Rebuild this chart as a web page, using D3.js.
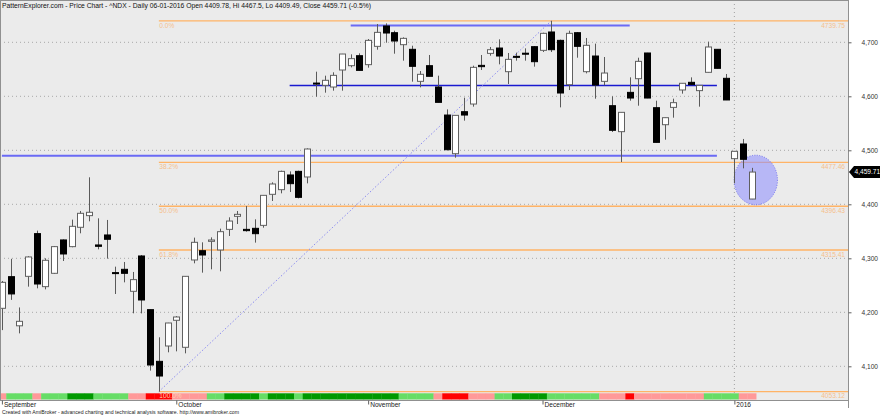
<!DOCTYPE html>
<html><head><meta charset="utf-8">
<script src="https://cdn.jsdelivr.net/npm/d3@7"></script>
<style>html,body{margin:0;padding:0;background:#fff;}svg{display:block;font-family:"Liberation Sans",Arial,sans-serif;}</style>
</head><body>
<svg id="c" width="880" height="415"></svg>
<script>
// ---- data ----
const dates = ["2015-09-02","2015-09-03","2015-09-04","2015-09-08","2015-09-09","2015-09-10","2015-09-11","2015-09-14","2015-09-15","2015-09-16","2015-09-17","2015-09-18","2015-09-21","2015-09-22","2015-09-23","2015-09-24","2015-09-25","2015-09-28","2015-09-29","2015-09-30",
"2015-10-01","2015-10-02","2015-10-05","2015-10-06","2015-10-07","2015-10-08","2015-10-09","2015-10-12","2015-10-13","2015-10-14","2015-10-15","2015-10-16","2015-10-19","2015-10-20","2015-10-21","2015-10-22","2015-10-23","2015-10-26","2015-10-27","2015-10-28","2015-10-29","2015-10-30",
"2015-11-02","2015-11-03","2015-11-04","2015-11-05","2015-11-06","2015-11-09","2015-11-10","2015-11-11","2015-11-12","2015-11-13","2015-11-16","2015-11-17","2015-11-18","2015-11-19","2015-11-20","2015-11-23","2015-11-24","2015-11-25","2015-11-27","2015-11-30",
"2015-12-01","2015-12-02","2015-12-03","2015-12-04","2015-12-07","2015-12-08","2015-12-09","2015-12-10","2015-12-11","2015-12-14","2015-12-15","2015-12-16","2015-12-17","2015-12-18","2015-12-21","2015-12-22","2015-12-23","2015-12-24","2015-12-28","2015-12-29","2015-12-30","2015-12-31",
"2016-01-04","2016-01-05","2016-01-06"];
const open  = [4207.4,4266,4175,4266.6,4345.7,4247.5,4272.2,4334,4321.6,4357.4,4379,4324.7,4343.2,4273.5,4279.6,4238.9,4304.3,4204.9,4109.2,4137.6,
4185.2,4135.2,4296.9,4314.1,4331.4,4315.4,4353.6,4377.7,4353.6,4355.5,4361,4418.5,4427.1,4454.3,4461,4450.6,4624.5,4620.3,4617.2,4648.7,4656.7,4675.2,
4658.6,4692.5,4730.2,4717.8,4695.6,4687,4627.7,4656.7,4617.2,4565.3,4493.7,4571.5,4585.7,4657.3,4679.5,4689.4,4645.6,4674,4679.8,4691.9,
4685.1,4719.1,4703.6,4621.5,4717.8,4645.6,4674.6,4627.7,4582.6,4534.5,4607.3,4632.6,4680.2,4578.9,4547.4,4579.5,4611.7,4625.9,4610.5,4644.4,4687,4633.3,
4484.5,4511.7,4409.78];
const high  = [4258,4299,4209,4304,4351.2,4300,4322.8,4335,4371.6,4387.6,4450,4374,4371,4284.5,4293.2,4274.7,4306,4205,4153.7,4180.5,
4193,4267,4338.3,4329.6,4338.8,4354.9,4375.9,4387.6,4396.9,4372.2,4417,4440.7,4462.3,4461,4462.3,4503.6,4645.6,4638.2,4644.4,4678.5,4677.7,4679.6,
4706.1,4733.9,4735.1,4721.5,4709.2,4693.7,4646.8,4676.5,4638.2,4575.8,4565,4597.5,4656.7,4676.5,4691.3,4705.5,4680.2,4680.8,4688.8,4693.1,
4717.8,4739.75,4704.9,4721.5,4719.1,4708,4697.5,4672.8,4599.9,4570.3,4635.1,4671.5,4680.5,4591.9,4560.6,4595.6,4624.3,4635.1,4620.5,4701.2,4687.2,4641.3,
4498.3,4521,4467.5];
const low   = [4167,4223,4161,4247.5,4244.4,4242.5,4271,4295,4320.4,4346.3,4368.5,4316.6,4299.4,4233.9,4255.5,4198.1,4198,4092,4053.12,4125.9,
4127.7,4124,4290.7,4273.4,4279.6,4275.9,4341.3,4363.5,4349.3,4329,4356.7,4406.1,4420.3,4422.8,4411,4438.8,4599.3,4606.7,4610.4,4610.4,4653.6,4647.5,
4653,4686.3,4699.3,4678.9,4666,4627.1,4616.6,4637,4588.8,4499.9,4486.3,4554.9,4580.8,4648.7,4675.2,4659.2,4622.8,4666,4666,4654.9,
4682,4682,4579.5,4611.6,4671.5,4642.5,4595.6,4620.3,4533.9,4478.3,4591.9,4582.6,4596.5,4514.5,4519.7,4560.4,4604.9,4621,4580.8,4644.2,4651.6,4593,
4438.8,4466.6,4409.49];
const close = [4255.5,4234,4183.3,4302.5,4252.4,4296.3,4321.6,4308,4359.2,4383.3,4385.2,4322.2,4335.2,4272.5,4272.2,4260.5,4222.8,4102.4,4082,4180.2,
4191.3,4266.6,4329.6,4306.1,4333.9,4349.3,4369,4381.4,4351.2,4345.6,4416.6,4437.6,4461,4438.2,4412.9,4502.4,4623.5,4629.6,4638.8,4678.3,4669.7,4648,
4703.6,4718.4,4717.2,4702.4,4707.3,4655.5,4640.7,4637,4588.8,4501.1,4564.7,4565.3,4653.6,4654.9,4686.3,4674.6,4668.4,4672.8,4679.4,4664.1,
4716.6,4686.3,4606.1,4716.6,4692.5,4694.4,4620.9,4643.1,4537,4570.3,4596.8,4664.7,4596.8,4514.7,4560.4,4588.2,4624.1,4621.6,4620.3,4691.3,4651.8,4593.2,
4498.1,4483.3,4459.71];
// trend strip: P pink, L light green, D dark green, R red
const strip = "PLLLPLLLDDDLLLLPPRRRPPPPLLDDDDLDDDLDDDDDDDDDDDLLLLPRRRPPPLLDDDDLLLLLLPPPRPPPPPPPPLLLLPP";
const yTicks = [4100,4200,4300,4400,4500,4600,4700];
const monthLabels = ["September","October","November","December","2016"];
const fibLevels = [0, 0.382, 0.5, 0.618, 1];
const fibLabels = ["0.0%","38.2%","50.0%","61.8%","100.0%"];
const fibHigh = 4739.75, fibLow = 4053.12, fibStart = 18;
// drawn lines: [price, fromIndex, toIndex]
const resistTop = [4731, 40, 72];
const supportLow = [4490, 0, 82];
const midLine = [4620, 33, 82];
const trendFrom = [18, 4053.12], trendTo = [63, 4739.75];
const title = "PatternExplorer.com - Price Chart - ^NDX - Daily 06-01-2016 Open 4409.78, Hi 4467.5, Lo 4409.49, Close 4459.71 (-0.5%)";
const footer = "Created with AmiBroker - advanced charting and technical analysis software. http://www.amibroker.com";

// ---- layout ----
const svg = d3.select("#c");
const PR = 848, PB = 400;
const x = d3.scaleLinear().domain([0, dates.length - 1]).range([1.9, 751.8]);
const y = d3.scaleLinear().domain([4100, 4700]).range([366.3, 42.3]);
const step = x(1) - x(0);

svg.append("rect").attr("x",0).attr("y",0).attr("width",PR).attr("height",PB).attr("fill","#ebebeb");
const clip = svg.append("clipPath").attr("id","pc").append("rect").attr("x",0).attr("y",0).attr("width",PR).attr("height",PB);
const g = svg.append("g").attr("clip-path","url(#pc)");

// gridlines
g.selectAll(".grid").data(yTicks).join("line")
  .attr("x1",0).attr("x2",PR).attr("y1",d=>y(d)).attr("y2",d=>y(d))
  .attr("stroke","#a8a8a8").attr("stroke-dasharray","1,3");

// year divider
const yearIdx = dates.findIndex(d=>d.startsWith("2016"));
g.append("line").attr("x1",x(yearIdx)).attr("x2",x(yearIdx)).attr("y1",0).attr("y2",393)
  .attr("stroke","#a0a0a0").attr("stroke-dasharray","1,3");

// strip
const stripCol = {P:"#ff9999",L:"#66dd66",D:"#009900",R:"#ff0000"};
g.selectAll(".st").data(strip.split("")).join("rect")
  .attr("x",(d,i)=>x(i)-step/2).attr("y",393.3).attr("width",step+0.3).attr("height",6.2)
  .attr("fill",d=>stripCol[d]);

// fib lines
const fibVal = f => fibHigh - f*(fibHigh-fibLow);
fibLevels.forEach((f,i)=>{
  const v = fibVal(f), yy = y(v);
  g.append("line").attr("x1",x(fibStart)).attr("x2",PR).attr("y1",yy).attr("y2",yy)
    .attr("stroke","#ffb366").attr("stroke-width",1.3);
  g.append("text").attr("x",x(fibStart)+0.5).attr("y",yy+6.8).attr("font-size",6.6)
    .attr("fill", i===4 ? "#ffd0b0" : "#f5c08c").text(fibLabels[i]);
  g.append("text").attr("x",PR-3).attr("y",yy+6.8).attr("font-size",6.6).attr("text-anchor","end")
    .attr("fill","#f5c08c").text(v.toFixed(2));
});

// circle highlight
const last = dates.length-1;
g.append("ellipse").attr("cx",x(last)+4).attr("cy",y(4445)).attr("rx",21.7).attr("ry",24.8)
  .attr("fill","rgba(140,140,255,0.55)").attr("stroke","#7070f0").attr("stroke-dasharray","1,1.5");

// horizontal drawn lines
const hl = (a,col,w)=>g.append("line").attr("x1",x(a[1])).attr("x2",x(a[2])).attr("y1",y(a[0])).attr("y2",y(a[0]))
  .attr("stroke",col).attr("stroke-width",w);
hl(resistTop,"#6a6af5",2);
hl(supportLow,"#6a6af5",2);
hl(midLine,"#1a1ad0",1.4);

// diagonal trend
g.append("line").attr("x1",x(trendFrom[0])).attr("y1",y(trendFrom[1])).attr("x2",x(trendTo[0])).attr("y2",y(trendTo[1]))
  .attr("stroke","#8c8cf0").attr("stroke-width",1).attr("stroke-dasharray","1.5,2");

// candles
const idx = d3.range(dates.length);
const bw = 6;
g.selectAll(".wick").data(idx).join("line")
  .attr("x1",i=>Math.round(x(i))+0.5).attr("x2",i=>Math.round(x(i))+0.5)
  .attr("y1",i=>y(high[i])).attr("y2",i=>y(low[i]))
  .attr("stroke","#5a5a5a").attr("stroke-width",1);
g.selectAll(".body").data(idx).join("rect")
  .attr("x",i=>Math.round(x(i))+0.5-bw/2).attr("width",bw)
  .attr("y",i=>y(Math.max(open[i],close[i])))
  .attr("height",i=>Math.max(1,Math.abs(y(open[i])-y(close[i]))))
  .attr("fill",i=>close[i]>=open[i]?"#ffffff":"#000000")
  .attr("stroke",i=>close[i]>=open[i]?"#606060":"#000000").attr("stroke-width",1);

// frame
svg.append("line").attr("x1",0).attr("x2",PR).attr("y1",0.5).attr("y2",0.5).attr("stroke","#909090");
svg.append("line").attr("x1",0.5).attr("x2",0.5).attr("y1",0).attr("y2",PB).attr("stroke","#909090");
svg.append("line").attr("x1",PR+0.5).attr("x2",PR+0.5).attr("y1",0).attr("y2",408).attr("stroke","#909090");

// right axis
const ya = svg.append("g").attr("transform",`translate(${PR+0.5},0)`)
  .call(d3.axisRight(y).tickValues(yTicks).tickFormat(d3.format(",")).tickSize(3).tickPadding(10));
ya.select(".domain").remove();
ya.selectAll("line").attr("stroke","#606060");
ya.selectAll("text").attr("font-size",6.6).attr("fill","#333").attr("font-family","Liberation Sans, Arial, sans-serif");

// bottom axis
const monthIdx = [];
dates.forEach((d,i)=>{ if(i===0 || d.slice(0,7)!==dates[i-1].slice(0,7)) monthIdx.push(i); });
const xa = svg.append("g").attr("transform",`translate(0,${PB+0.5})`)
  .call(d3.axisBottom(x).tickValues(monthIdx).tickSize(4).tickFormat((d,i)=>monthLabels[i]));
xa.select(".domain").attr("d",`M0,0H${PR}`).attr("stroke","#909090");
xa.selectAll(".tick line").attr("stroke","#606060");
xa.selectAll(".tick text").attr("text-anchor","start").attr("x",1.5).attr("y",1.5).attr("dy","0.71em")
  .attr("font-size",6.6).attr("fill","#222").attr("font-family","Liberation Sans, Arial, sans-serif");

// price tag
const py = y(close[last]);
svg.append("path").attr("d",`M${PR+1},${py} L${PR+6},${py-6} H880 V${py+6} H${PR+6} Z`).attr("fill","#000");
svg.append("text").attr("x",PR+6.5).attr("y",py+2.4).attr("font-size",6.6).attr("fill","#fff")
  .text(d3.format(",.2f")(close[last]));

// titles
svg.append("text").attr("x",2).attr("y",8).attr("font-size",6.8).attr("fill","#111")
  .attr("textLength",369).attr("lengthAdjust","spacingAndGlyphs").text(title);
svg.append("text").attr("x",2).attr("y",413.5).attr("font-size",5).attr("fill","#222")
  .attr("textLength",237).attr("lengthAdjust","spacingAndGlyphs").text(footer);
</script>
</body></html>
